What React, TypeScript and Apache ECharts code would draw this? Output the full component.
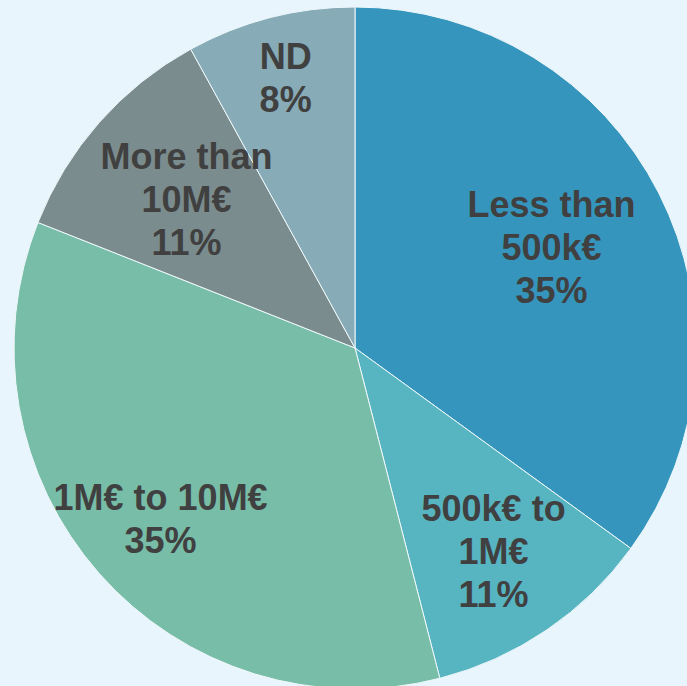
import React, { useEffect, useRef } from "react";
import * as echarts from "echarts";

const categories = ["Less than\n500k€", "500k€ to\n1M€", "1M€ to 10M€", "More than\n10M€", "ND"];
const shares = [35, 11, 35, 11, 8];
const colors = ["#3595bd", "#57b4c1", "#78bda7", "#7b8c8e", "#87abb7"];
const labelRadiusFrac = [0.647, 0.723, 0.76, 0.659, 0.818];

const W = 687;
const H = 686;
const CX = 355;
const CY = 348;
const R = 341;

export default function App() {
  const ref = useRef<HTMLDivElement>(null);
  useEffect(() => {
    if (!ref.current) return;
    const chart = echarts.init(ref.current, undefined, { renderer: "svg", width: W, height: H });
    chart.setOption({
      animation: false,
      backgroundColor: "#e9f5fc",
      series: [
        {
          type: "pie",
          center: [CX, CY],
          radius: [0, R],
          startAngle: 90,
          clockwise: true,
          data: categories.map((name, i) => ({
            name,
            value: shares[i],
            itemStyle: { color: colors[i] },
          })),
          itemStyle: { borderColor: "#eef8fb", borderWidth: 1 },
          label: {
            show: true,
            position: "inside",
            formatter: (p: any) => `${p.name}\n${p.value}%`,
            color: "#404040",
            fontFamily: "Liberation Sans, Arial, sans-serif",
            fontWeight: "bold",
            fontSize: 36,
            lineHeight: 43,
            align: "center",
          },
          labelLine: { show: false },
          labelLayout: (params: any) => {
            const r = params.labelRect;
            const lx = r.x + r.width / 2;
            const ly = r.y + r.height / 2;
            const dx = lx - CX;
            const dy = ly - CY;
            const d = Math.sqrt(dx * dx + dy * dy) || 1;
            const f = labelRadiusFrac[params.dataIndex] * R;
            return { x: CX + (dx / d) * f, y: CY + (dy / d) * f };
          },
          emphasis: { disabled: true },
        },
      ],
    });
    return () => chart.dispose();
  }, []);
  return (
    <div
      ref={ref}
      style={{ position: "absolute", left: 0, top: 0, width: W, height: H }}
    />
  );
}
